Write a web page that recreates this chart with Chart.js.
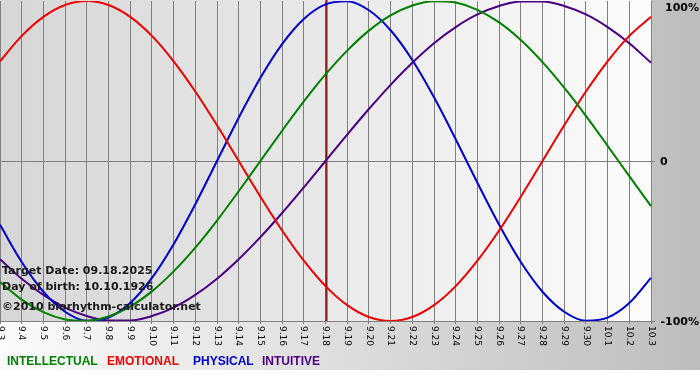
<!DOCTYPE html>
<html>
<head>
<meta charset="utf-8">
<script src="https://cdn.jsdelivr.net/npm/chart.js@4"></script>
<style>
  html, body { margin: 0; padding: 0; background: #fff; }
  #wrap { width: 700px; height: 380px; }
</style>
</head>
<body>
<div id="wrap"><canvas id="bioChart" width="700" height="380"></canvas></div>
<script>
// days shown on the x axis
var days = ['9.3','9.4','9.5','9.6','9.7','9.8','9.9','9.10','9.11','9.12','9.13','9.14','9.15','9.16','9.17',
            '9.18','9.19','9.20','9.21','9.22','9.23','9.24','9.25','9.26','9.27','9.28','9.29','9.30','10.1','10.2','10.3'];

// cycle values in percent, one per day
var intellectual = [-75.6,-86.6,-94.5,-99.0,-99.9,-97.2,-91.0,-81.5,-69.0,-54.1,-37.2,-18.9,0,18.9,37.2,54.1,
                    69.0,81.5,91.0,97.2,99.9,99.0,94.5,86.6,75.6,61.8,45.8,28.2,9.5,-9.5,-28.2];
var emotional    = [62.3,78.2,90.1,97.5,100,97.5,90.1,78.2,62.3,43.4,22.3,0,-22.3,-43.4,-62.3,-78.2,
                    -90.1,-97.5,-100,-97.5,-90.1,-78.2,-62.3,-43.4,-22.3,0,22.3,43.4,62.3,78.2,90.1];
var physical     = [-39.8,-63.1,-81.7,-94.2,-99.8,-97.9,-88.8,-73.1,-52.0,-27.0,0,27.0,52.0,73.1,88.8,97.9,
                    99.8,94.2,81.7,63.1,39.8,13.6,-13.6,-39.8,-63.1,-81.7,-94.2,-99.8,-97.9,-88.8,-73.1];
var intuitive    = [-61.4,-73.6,-83.7,-91.6,-96.9,-99.7,-99.7,-96.9,-91.6,-83.7,-73.6,-61.4,-47.6,-32.5,-16.5,0,
                    16.5,32.5,47.6,61.4,73.6,83.7,91.6,96.9,99.7,99.7,96.9,91.6,83.7,73.6,61.4];

var yTicks = [100, 0, -100];
var targetDay = '9.18';
var infoLines = ['Target Date: 09.18.2025', 'Day of birth: 10.10.1926', '\u00a92010 biorhythm-calculator.net'];

// custom drawing: backgrounds, today marker, rotated day labels, texts
var bioPlugin = {
  id: 'bio',
  beforeDraw: function (chart) {
    var ctx = chart.ctx, a = chart.chartArea;
    ctx.save();
    var g = ctx.createLinearGradient(0, 0, chart.width, 0);
    g.addColorStop(0, '#fbfbfb');
    g.addColorStop(1, '#bdbdbd');
    ctx.fillStyle = g;
    ctx.fillRect(0, 0, chart.width, 370);
    ctx.fillStyle = '#ffffff';
    ctx.fillRect(0, 370, chart.width, chart.height - 370);
    var g2 = ctx.createLinearGradient(a.left, 0, a.right, 0);
    g2.addColorStop(0, '#d6d6d6');
    g2.addColorStop(1, '#fcfcfc');
    ctx.fillStyle = g2;
    ctx.fillRect(a.left, 0, a.right - a.left, a.bottom);
    ctx.restore();
  },
  beforeDatasetsDraw: function (chart) {
    var ctx = chart.ctx, a = chart.chartArea;
    var x = Math.round(chart.scales.x.getPixelForValue(days.indexOf(targetDay))) + 0.5;
    ctx.save();
    ctx.strokeStyle = '#8b1a1a';
    ctx.lineWidth = 2;
    ctx.beginPath();
    ctx.moveTo(x, 0);
    ctx.lineTo(x, a.bottom);
    ctx.stroke();
    ctx.restore();
  },
  afterDraw: function (chart) {
    var ctx = chart.ctx, a = chart.chartArea;
    var xs = chart.scales.x, ys = chart.scales.y;
    ctx.save();
    // day labels, rotated clockwise
    ctx.fillStyle = '#000';
    ctx.font = '9px "DejaVu Sans"';
    ctx.textAlign = 'left';
    ctx.textBaseline = 'middle';
    days.forEach(function (d, i) {
      var x = xs.getPixelForValue(i);
      ctx.save();
      ctx.translate(x, a.bottom + 5);
      ctx.rotate(Math.PI / 2);
      ctx.fillText(d, 0, 0);
      ctx.restore();
    });
    // percent labels on the right
    ctx.font = 'bold 11px "DejaVu Sans"';
    ctx.textBaseline = 'middle';
    yTicks.forEach(function (v) {
      var y = ys.getPixelForValue(v);
      if (y < 7) y = 7;
      var txt = v === 0 ? '0' : v + '%';
      ctx.textAlign = v === 0 ? 'left' : 'right';
      ctx.fillText(txt, v === 0 ? a.right + 9 : chart.width - 1, y + 1);
    });
    // info text
    ctx.textAlign = 'left';
    ctx.fillStyle = '#1a1a1a';
    ctx.font = 'bold 11px "DejaVu Sans"';
    ctx.fillText(infoLines[0], 2, 271);
    ctx.fillText(infoLines[1], 2, 287);
    ctx.fillText(infoLines[2], 2, 307);
    // legend words
    ctx.font = 'bold 12px "Liberation Sans"';
    var starts = [7, 107, 193, 262];
    chart.data.datasets.forEach(function (ds, i) {
      ctx.fillStyle = ds.borderColor;
      ctx.fillText(ds.label, starts[i], 362);
    });
    ctx.restore();
  }
};

var ctx = document.getElementById('bioChart').getContext('2d');
var bioChart = new Chart(ctx, {
  type: 'line',
  data: {
    labels: days,
    datasets: [
      { label: 'INTELLECTUAL', data: intellectual, borderColor: '#008000' },
      { label: 'EMOTIONAL', data: emotional, borderColor: '#ee0000' },
      { label: 'PHYSICAL', data: physical, borderColor: '#0000cc' },
      { label: 'INTUITIVE', data: intuitive, borderColor: '#4b0082' }
    ]
  },
  options: {
    responsive: false,
    animation: false,
    layout: { padding: { top: 1, right: 45, bottom: 56, left: 0 } },
    elements: {
      line: { borderWidth: 2, cubicInterpolationMode: 'monotone', fill: false },
      point: { radius: 0 }
    },
    plugins: { legend: { display: false }, tooltip: { enabled: false } },
    scales: {
      x: {
        offset: false,
        ticks: { display: false },
        grid: { color: '#808080', lineWidth: 1, drawTicks: true, tickLength: 3 },
        border: { color: '#808080' }
      },
      y: {
        position: 'right',
        min: -100,
        max: 100,
        ticks: { display: false, stepSize: 100 },
        grid: {
          color: function (c) { return c.tick && c.tick.value === 100 ? 'rgba(0,0,0,0)' : '#808080'; },
          drawTicks: true,
          tickLength: 4
        },
        border: { display: false }
      }
    }
  },
  plugins: [bioPlugin]
});
</script>
</body>
</html>
